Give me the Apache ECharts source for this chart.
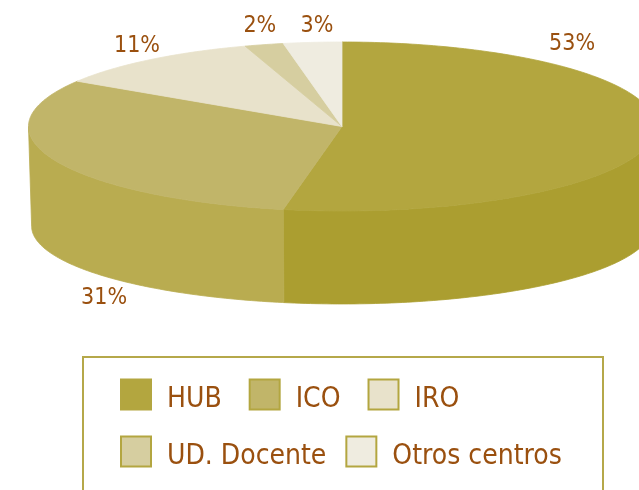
<!DOCTYPE html>
<html>
<head>
<meta charset="utf-8">
<script src="https://cdn.jsdelivr.net/npm/echarts@6/dist/echarts.min.js"></script>
<style>
html,body{margin:0;padding:0;background:#fff;}
#chart{width:639px;height:490px;}
</style>
</head>
<body>
<div id="chart"></div>
<script>
// datos
var categories = ['HUB', 'ICO', 'IRO', 'UD. Docente', 'Otros centros'];
var shares = [53, 31, 11, 2, 3];

// colores: cara superior y lateral
var topColors = ['#b3a63f', '#c1b569', '#e8e2cb', '#d6cea0', '#efece0'];
var sideColors = ['#ab9e30', '#b9ac50', '#ddd6b8', '#cbc290', '#e4e0d0'];
var textColor = '#9a500f';

// donde va cada etiqueta (unidades del eje)
var labelAt = [[0.734, 0.976], [-0.759, -2.03], [-0.654, 0.953], [-0.262, 1.189], [-0.080, 1.189]];

var total = shares.reduce(function(a, b){ return a + b; }, 0);
var startDeg = [];
var acc = 0;
for (var k = 0; k < shares.length; k++) {
	startDeg.push(acc / total * 360);
	acc += shares[k];
}

function makeRender(i)
{
	var a = startDeg[i];
	var b = a + shares[i] / total * 360;
	return function(params, api)
	{
		function topPt(d) {
			var t = d * Math.PI / 180;
			return api.coord([Math.sin(t), Math.cos(t)]);
		}
		function botPt(d) {
			var t = d * Math.PI / 180;
			return api.coord([Math.sin(t) * 0.99, Math.cos(t) * 0.92 - 1.18]);
		}
		var children = [];

		// lateral (solo la mitad delantera se ve)
		var s0 = Math.max(a, 90), s1 = Math.min(b, 270);
		if (s1 > s0) {
			var side = [];
			for (var d = s0; d < s1; d += 1) side.push(topPt(d));
			side.push(topPt(s1));
			side.push(botPt(s1));
			for (var d2 = s1; d2 > s0; d2 -= 1) side.push(botPt(d2));
			side.push(botPt(s0));
			children.push({
				type: 'polygon',
				shape: {points: side},
				style: {fill: sideColors[i], stroke: sideColors[i], lineWidth: 0.8}
			});
		}

		// cara superior
		var pts = [api.coord([0, 0])];
		for (var d3 = a; d3 < b; d3 += 1) pts.push(topPt(d3));
		pts.push(topPt(b));
		children.push({
			type: 'polygon',
			shape: {points: pts},
			style: {fill: topColors[i], stroke: topColors[i], lineWidth: 0.8}
		});

		var lp = api.coord(labelAt[i]);
		children.push({
			type: 'text',
			x: lp[0], y: lp[1],
			style: {
				text: Math.round(shares[i] / total * 100) + '%',
				fill: textColor,
				font: '23px "DejaVu Sans Condensed", "DejaVu Sans", sans-serif',
				align: 'center',
				verticalAlign: 'middle'
			}
		});
		return {type: 'group', children: children};
	};
}

var series = [];
for (var i = 0; i < categories.length; i++) {
	series.push({
		type: 'custom',
		name: categories[i],
		coordinateSystem: 'cartesian2d',
		itemStyle: {color: topColors[i]},
		data: [[0, 0]],
		renderItem: makeRender(i),
		clip: false,
		silent: true,
		animation: false
	});
}

// cuadrado 30x30 arriba de una caja de 40 de alto: así el texto queda algo más bajo que el icono
var legendIcon = 'path://M0,0L30,0L30,30L0,30Z M0,40L0,40';

function legendRow(names, top, gap)
{
	return {
		data: names,
		left: 120,
		top: top,
		orient: 'horizontal',
		icon: legendIcon,
		itemWidth: 30,
		itemHeight: 40,
		itemGap: gap,
		padding: 0,
		itemStyle: {borderColor: '#b3a640', borderWidth: 2},
		textStyle: {
			color: textColor,
			fontSize: 28,
			fontFamily: '"DejaVu Sans Condensed", "DejaVu Sans", sans-serif',
			padding: [0, 0, 0, 11]
		},
		selectedMode: false
	};
}

var chart = echarts.init(document.getElementById('chart'), null, {renderer: 'canvas'});
chart.setOption({
	backgroundColor: '#fff',
	animation: false,
	// la tarta sale por la derecha del lienzo: el eje x acaba antes de +1
	grid: {left: 28.5, right: 0, top: 42, bottom: 110},
	xAxis: {type: 'value', min: -1, max: 0.9474, show: false},
	yAxis: {type: 'value', min: -3, max: 1, show: false},
	legend: [
		legendRow(categories.slice(0, 3), 378.5, 27),
		legendRow(categories.slice(3), 435.5, 19)
	],
	graphic: [{
		type: 'rect',
		silent: true,
		shape: {x: 83, y: 357, width: 520, height: 200},
		style: {fill: 'none', stroke: '#b5a84a', lineWidth: 2}
	}],
	series: series
});
</script>
</body>
</html>
